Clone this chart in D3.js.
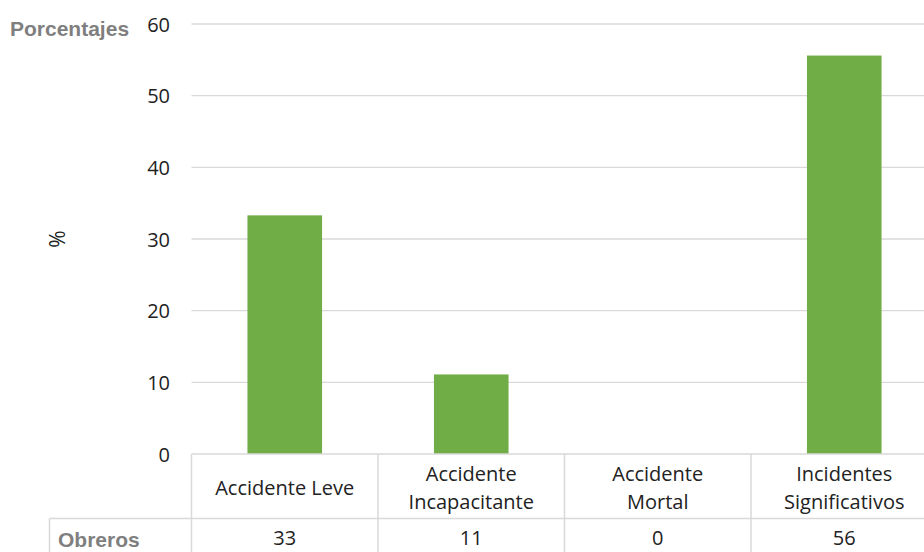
<!DOCTYPE html>
<html><head><meta charset="utf-8">
<script src="https://cdn.jsdelivr.net/npm/d3@7"></script>
<style>body{margin:0;background:#fff;overflow:hidden}</style>
</head><body>
<script>
const categories = [["Accidente Leve"], ["Accidente", "Incapacitante"], ["Accidente", "Mortal"], ["Incidentes", "Significativos"]];
const values = [33.3, 11.1, 0, 55.6];
const tableValues = ["33", "11", "0", "56"];
const yTicks = [0, 10, 20, 30, 40, 50, 60];
const rowLabel = "Obreros";
const yTitle = "%";
const cornerTitle = "Porcentajes";

(function () {
const W = 924, H = 552;
const svg = d3.select("body").append("svg").attr("width", W).attr("height", H);
const pLeft = 191.5, pRight = 937.5, pTop = 24, pBottom = 454;
const grid = "#d9d9d9";
const font = "'Open Sans', sans-serif";
const fs = 20;

const x = d3.scaleBand().domain(d3.range(categories.length)).range([pLeft, pRight]).padding(0);
const y = d3.scaleLinear().domain([0, 60]).range([pBottom, pTop]);

// gridlines
svg.append("g").selectAll("line").data(yTicks.filter(d => d > 0)).join("line")
  .attr("x1", pLeft).attr("x2", W).attr("y1", d => y(d)).attr("y2", d => y(d))
  .attr("stroke", grid).attr("stroke-width", 1.3);

// y axis labels
const ax = svg.append("g").attr("transform", `translate(170,0)`)
  .call(d3.axisLeft(y).tickValues(yTicks).tickSize(0).tickPadding(0));
ax.select(".domain").remove();
ax.selectAll("text").attr("font-family", font).attr("font-size", fs).attr("fill", "#222").attr("dy", "0.36em");

// bars
const bw = x.bandwidth() * 0.4;
svg.append("g").selectAll("rect").data(values).join("rect")
  .attr("x", (d, i) => x(i) + (x.bandwidth() - bw) / 2)
  .attr("width", bw)
  .attr("y", d => y(d)).attr("height", d => y(0) - y(d))
  .attr("fill", "#70ad47");

// table
const rowMid = 518.5;
const tg = svg.append("g").attr("stroke", grid).attr("stroke-width", 1.5).attr("fill", "none");
tg.append("line").attr("x1", pLeft).attr("x2", W).attr("y1", pBottom).attr("y2", pBottom);
tg.append("line").attr("x1", 49.5).attr("x2", W).attr("y1", rowMid).attr("y2", rowMid);
tg.append("line").attr("x1", 49.5).attr("x2", 49.5).attr("y1", rowMid).attr("y2", H);
categories.forEach((c, i) => {
  tg.append("line").attr("x1", x(i)).attr("x2", x(i)).attr("y1", pBottom).attr("y2", H);
});

const tt = svg.append("g").attr("font-family", font).attr("font-size", fs).attr("fill", "#222").attr("text-anchor", "middle");
categories.forEach((c, i) => {
  const cx = x(i) + x.bandwidth() / 2;
  const n = c.length;
  c.forEach((line, j) => {
    tt.append("text").attr("x", cx).attr("y", 487.5 + (j - (n - 1) / 2) * 28)
      .attr("dy", "0.36em").text(line);
  });
  tt.append("text").attr("x", cx).attr("y", 537.5).attr("dy", "0.36em").text(tableValues[i]);
});

svg.append("text").attr("x", 58).attr("y", 547)
  .attr("font-family", "'Liberation Sans', Arial, sans-serif").attr("font-weight", "bold")
  .attr("font-size", 21).attr("fill", "#7f7f7f").text(rowLabel);

svg.append("text").attr("x", 10).attr("y", 36)
  .attr("font-family", "'Liberation Sans', Arial, sans-serif").attr("font-weight", "bold")
  .attr("font-size", 21).attr("fill", "#7f7f7f").text(cornerTitle);

svg.append("text").attr("transform", "translate(57,239) rotate(-90)")
  .attr("text-anchor", "middle").attr("dy", "0.36em")
  .attr("font-family", font).attr("font-size", 21).attr("fill", "#222").text(yTitle);
})();
</script>
</body></html>
